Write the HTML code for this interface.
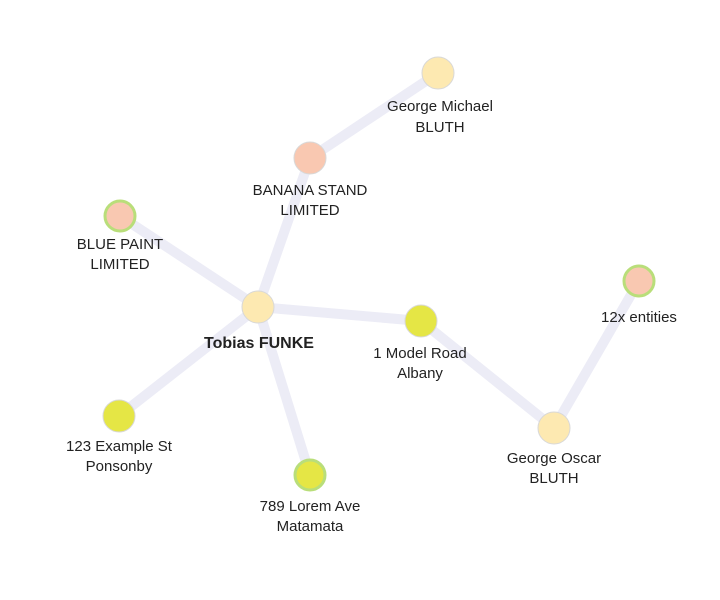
<!DOCTYPE html>
<html><head><meta charset="utf-8"><style>
html,body{margin:0;padding:0;background:#fff;width:720px;height:600px;overflow:hidden}
text{font-family:"Liberation Sans",sans-serif;font-size:15px;fill:#222;text-anchor:middle}
</style></head><body>
<svg width="720" height="600" xmlns="http://www.w3.org/2000/svg">
<g stroke="#ececf6" stroke-width="10" stroke-linecap="round">
<line x1="258" y1="307" x2="310" y2="158"/>
<line x1="310" y1="158" x2="438" y2="73"/>
<line x1="258" y1="307" x2="120" y2="216"/>
<line x1="258" y1="307" x2="421" y2="321"/>
<line x1="421" y1="321" x2="554" y2="428"/>
<line x1="554" y1="428" x2="639" y2="281"/>
<line x1="258" y1="307" x2="119" y2="416"/>
<line x1="258" y1="307" x2="310" y2="475"/>
</g>
<g stroke="#d8d8d8" stroke-width="1">
<circle cx="258" cy="307" r="16" fill="#fde9b1"/>
<circle cx="438" cy="73" r="16" fill="#fde9b1"/>
<circle cx="554" cy="428" r="16" fill="#fde9b1"/>
<circle cx="310" cy="158" r="16" fill="#f9c8b1"/>
<circle cx="421" cy="321" r="16" fill="#e5e645"/>
<circle cx="119" cy="416" r="16" fill="#e5e645"/>
</g>
<g stroke="#b9de7a" stroke-width="3">
<circle cx="120" cy="216" r="15" fill="#f9c8b1"/>
<circle cx="639" cy="281" r="15" fill="#f9c8b1"/>
<circle cx="310" cy="475" r="15" fill="#e5e645"/>
</g>
<text x="259" y="348" style="font-weight:bold;font-size:16px">Tobias FUNKE</text>
<text x="440" y="111">George Michael</text><text x="440" y="132">BLUTH</text>
<text x="310" y="195">BANANA STAND</text><text x="310" y="215">LIMITED</text>
<text x="120" y="249">BLUE PAINT</text><text x="120" y="269">LIMITED</text>
<text x="420" y="358">1 Model Road</text><text x="420" y="378">Albany</text>
<text x="639" y="322">12x entities</text>
<text x="554" y="463">George Oscar</text><text x="554" y="483">BLUTH</text>
<text x="119" y="451">123 Example St</text><text x="119" y="471">Ponsonby</text>
<text x="310" y="511">789 Lorem Ave</text><text x="310" y="531">Matamata</text>
</svg>
</body></html>
